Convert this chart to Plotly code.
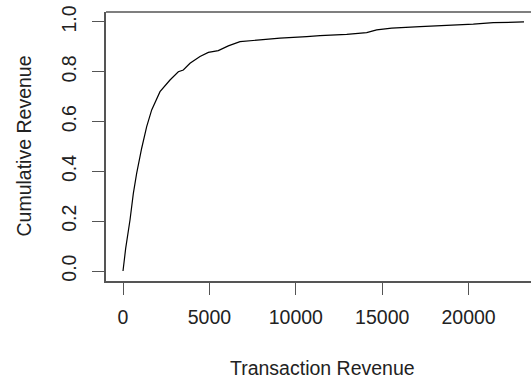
import plotly.graph_objects as go

# Data
revenue = [0, 155, 405, 598, 790, 984, 1080, 1370, 1660, 2141, 2720, 3202, 3490, 3877,
           4456, 4938, 5515, 6094, 6771, 7928, 9085, 10630, 11400, 12946, 14102,
           14680, 15550, 17187, 18826, 20272, 21430, 22587, 23206]
cumulative = [0.0, 0.091, 0.205, 0.312, 0.392, 0.466, 0.493, 0.58, 0.647, 0.72, 0.767,
              0.80, 0.807, 0.834, 0.861, 0.878, 0.885, 0.904, 0.921, 0.928, 0.935,
              0.941, 0.945, 0.95, 0.957, 0.968, 0.975, 0.981, 0.985, 0.991, 0.997,
              1.0, 1.0]
x_ticks = [0, 5000, 10000, 15000, 20000]
y_ticks = [0.0, 0.2, 0.4, 0.6, 0.8, 1.0]
y_tick_labels = ["0.0", "0.2", "0.4", "0.6", "0.8", "1.0"]

FONT = "Liberation Sans, Arial, sans-serif"
TXT = "#222222"
AX = "#555555"
FS = 19.5

fig = go.Figure()
fig.add_trace(go.Scatter(x=revenue, y=cumulative, mode="lines",
                         line=dict(color="black", width=1.2), showlegend=False))

fig.update_layout(
    width=531, height=380,
    margin=dict(l=106, r=0, t=12, b=99),
    paper_bgcolor="white", plot_bgcolor="white",
    font=dict(family=FONT, size=FS, color=TXT),
    xaxis=dict(range=[-984, 23611], tickvals=x_ticks, ticktext=[str(v) for v in x_ticks],
               showgrid=False, zeroline=False, showline=True, linecolor=AX, linewidth=1.5,
               ticks="outside", ticklen=12, tickcolor=AX, tickwidth=1.3,
               ticklabelstandoff=6),
    yaxis=dict(range=[-0.040, 1.040], tickvals=y_ticks, ticktext=y_tick_labels,
               tickangle=-90, showgrid=False, zeroline=False, showline=True,
               linecolor=AX, linewidth=1.5, ticks="outside", ticklen=12,
               tickcolor=AX, tickwidth=1.3, ticklabelstandoff=8),
    shapes=[dict(type="line", xref="paper", yref="paper", x0=0, x1=1, y0=1, y1=1,
                 line=dict(color=AX, width=1.5))],
    annotations=[
        dict(text="Transaction Revenue", xref="paper", yref="paper",
             x=(322 - 106) / 425, y=-(368 - 281) / 269, xanchor="center", yanchor="middle",
             showarrow=False, font=dict(size=FS, color=TXT)),
        dict(text="Cumulative Revenue", xref="paper", yref="paper",
             x=-(106 - 23) / 425, y=0.5, xanchor="center", yanchor="middle",
             textangle=-90, showarrow=False, font=dict(size=FS, color=TXT)),
    ],
)

fig.write_html("out.html")
